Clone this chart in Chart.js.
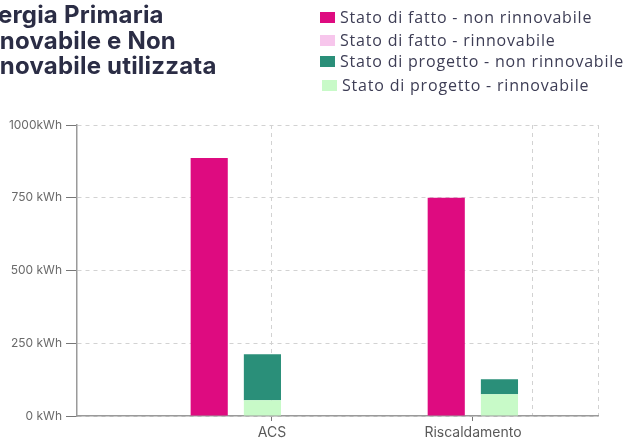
<!DOCTYPE html>
<html><head><meta charset="utf-8">
<script src="https://cdn.jsdelivr.net/npm/chart.js@4/dist/chart.umd.min.js"></script>
<style>
html,body{margin:0;padding:0;background:#fff;width:629px;height:440px;overflow:hidden;}
body{position:relative;}
#c{position:absolute;left:0;top:0;}
#title{position:absolute;left:0;top:0;font-family:Inter,sans-serif;font-weight:700;font-size:24px;letter-spacing:0.2px;color:#2b2d45;white-space:nowrap;}
#title div{position:absolute;height:26px;line-height:26px;}
#legend{position:absolute;left:0;top:0;font-family:'Open Sans',sans-serif;font-size:16px;letter-spacing:0.8px;color:#3d3d55;}
.item{position:absolute;white-space:nowrap;line-height:20px;height:20px;}
.box{position:absolute;width:15px;height:11px;top:5px;left:0;}
.lbl{position:absolute;left:20px;top:0;}
</style></head><body>
<canvas id="c" width="629" height="440"></canvas>
<div id="title">
  <div style="left:-32px;top:2px;">Energia Primaria</div>
  <div style="left:-38px;top:28px;">Rinnovabile e Non</div>
  <div style="left:-38px;top:53px;">Rinnovabile utilizzata</div>
</div>
<div id="legend"></div>
<script>
const categories = ['ACS', 'Riscaldamento'];
const seriesNames = ['Stato di fatto - non rinnovabile', 'Stato di fatto - rinnovabile', 'Stato di progetto - non rinnovabile', 'Stato di progetto - rinnovabile'];
const seriesColors = ['#de0b80', '#f7c6ec', '#2a8f79', '#c8fac8'];
const fattoNonRinnovabile = [887, 750];
const fattoRinnovabile = [0, 0];
const progettoNonRinnovabile = [158, 51];
const progettoRinnovabile = [54, 75];
const yTicks = [0, 250, 500, 750, 1000];
const yTickLabels = ['0 kWh', '250 kWh', '500 kWh', '750 kWh', '1000kWh'];

// legend (HTML)
const legendPos = [[320, 7], [320, 30], [320, 51], [322, 75]];
const legend = document.getElementById('legend');
seriesNames.forEach((name, i) => {
  const it = document.createElement('div');
  it.className = 'item';
  it.style.left = legendPos[i][0] + 'px';
  it.style.top = legendPos[i][1] + 'px';
  it.innerHTML = '<span class="box" style="background:' + seriesColors[i] + '"></span><span class="lbl">' + name + '</span>';
  legend.appendChild(it);
});

const pts = arr => arr.map((v, i) => ({ x: i, y: v }));
const datasets = [
  { label: seriesNames[0], data: pts(fattoNonRinnovabile), backgroundColor: seriesColors[0], stack: 'fatto' },
  { label: seriesNames[1], data: pts(fattoRinnovabile), backgroundColor: seriesColors[1], stack: 'fatto' },
  { label: seriesNames[3], data: pts(progettoRinnovabile), backgroundColor: seriesColors[3], stack: 'progetto' },
  { label: seriesNames[2], data: pts(progettoNonRinnovabile), backgroundColor: seriesColors[2], stack: 'progetto' }
].map(d => Object.assign(d, { xAxisID: 'x', yAxisID: 'y', categoryPercentage: 0.449, barPercentage: 0.698, borderWidth: 0 }));

new Chart(document.getElementById('c'), {
  type: 'bar',
  data: { datasets },
  options: {
    responsive: false,
    animation: false,
    layout: { padding: { top: 125, right: 31, left: 0, bottom: 0 } },
    plugins: { legend: { display: false }, tooltip: { enabled: false } },
    scales: {
      x: {
        type: 'linear', display: false, min: -0.67, max: 1.528, stacked: true, offset: false,
        grid: { offset: false },
        afterBuildTicks: s => { s.ticks = categories.map((_, i) => ({ value: i })); }
      },
      x2: {
        type: 'linear', position: 'bottom', min: -0.970, max: 1.622, offset: false,
        afterBuildTicks: s => { s.ticks = [0, 1, 1.294, 1.622].map(v => ({ value: v })); },
        grid: {
          offset: false, lineWidth: 1, tickLength: 5, tickWidth: 1,
          color: c => (c.tick && c.tick.value === 1) ? 'rgba(0,0,0,0)' : '#d2d2d2',
          tickColor: c => (c.tick && Number.isInteger(c.tick.value)) ? '#777' : 'rgba(0,0,0,0)'
        },
        border: { color: '#9a9a9a', width: 1.5, dash: [4, 4] },
        ticks: {
          autoSkip: false, maxRotation: 0, padding: 3, color: '#5a5a5a',
          font: { family: 'Inter', size: 14 },
          callback: v => Number.isInteger(v) ? categories[v] : ''
        },
        afterFit: s => { s.height = 24; }
      },
      y: {
        min: 0, max: 1000, stacked: true,
        afterBuildTicks: s => { s.ticks = yTicks.map(v => ({ value: v })); },
        grid: { color: '#d2d2d2', tickColor: '#777', tickLength: 11, lineWidth: 1 },
        border: { color: '#9a9a9a', width: 1.5, dash: [4, 4] },
        ticks: {
          padding: 4, color: '#6a6a6a', font: { family: 'Inter', size: 12 },
          callback: (v, i) => yTickLabels[i]
        },
        afterFit: s => { s.width = 77; }
      }
    }
  }
});
</script>
</body></html>
